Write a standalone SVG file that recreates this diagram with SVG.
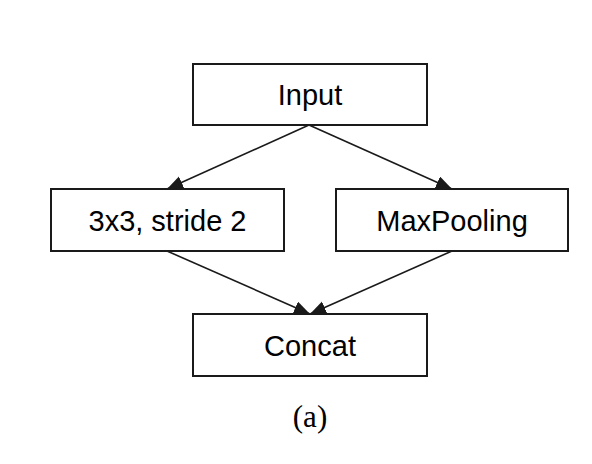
<svg xmlns="http://www.w3.org/2000/svg" width="592" height="464" viewBox="0 0 592 464">
<style>
.box{fill:#fff;stroke:#1a1a1a;stroke-width:2}
.lbl{font-family:"Liberation Sans",Arial,Helvetica,sans-serif;font-size:29px;fill:#000;text-anchor:middle}
.edge{stroke:#1a1a1a;stroke-width:1.6;fill:none;marker-end:url(#ah)}
.cap{font-family:"Liberation Serif","Times New Roman",serif;font-size:31px;fill:#000;text-anchor:middle}
</style>
<defs>
<marker id="ah" markerUnits="userSpaceOnUse" markerWidth="18" markerHeight="14" refX="16" refY="6.5" orient="auto">
<path d="M0,0 L16,6.5 L0,13 Z" fill="#1a1a1a"/>
</marker>
</defs>
<rect width="592" height="464" fill="#fff"/>
<g id="connectors">
<line class="edge" x1="309" y1="125" x2="167" y2="189"/>
<line class="edge" x1="309" y1="125" x2="452" y2="189"/>
<line class="edge" x1="167" y1="251" x2="310" y2="314"/>
<line class="edge" x1="452" y1="251" x2="310" y2="314"/>
</g>
<g id="input">
<rect class="box" x="193" y="64" width="234" height="61"/>
<text class="lbl" x="310" y="105">Input</text>
</g>
<g id="conv">
<rect class="box" x="51" y="189" width="233" height="62"/>
<text class="lbl" x="167.5" y="231">3x3, stride 2</text>
</g>
<g id="maxpool">
<rect class="box" x="336" y="189" width="232" height="62"/>
<text class="lbl" x="452" y="231">MaxPooling</text>
</g>
<g id="concat">
<rect class="box" x="193" y="314" width="234" height="62"/>
<text class="lbl" x="310" y="356">Concat</text>
</g>
<text class="cap" x="310" y="427">(a)</text>
</svg>
